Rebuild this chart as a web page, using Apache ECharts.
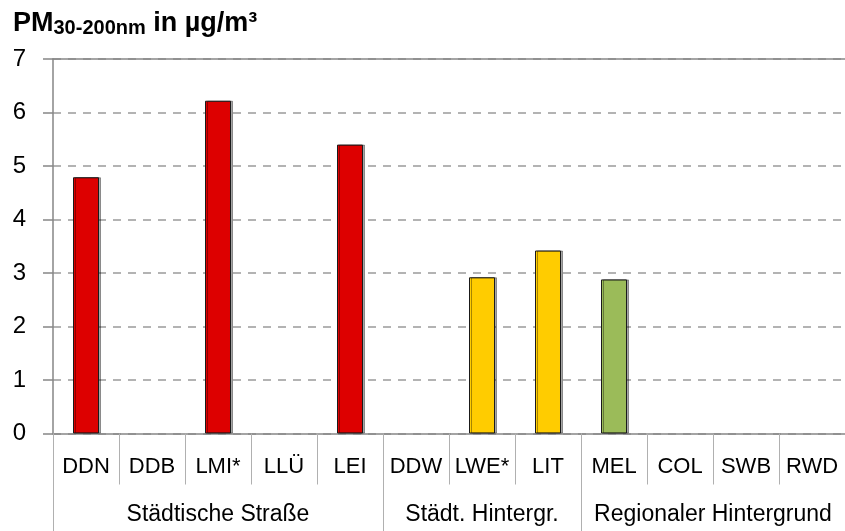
<!DOCTYPE html>
<html>
<head>
<meta charset="utf-8">
<script src="https://cdn.jsdelivr.net/npm/echarts@6/dist/echarts.min.js"></script>
<style>
  html, body { margin: 0; padding: 0; background: #fff; }
  #chart { width: 845px; height: 531px; }
</style>
</head>
<body>
<div id="chart"></div>
<script>
// stations and PM30-200nm values (µg/m³), null = no bar
const stations = ["DDN", "DDB", "LMI*", "LLÜ", "LEI", "DDW", "LWE*", "LIT", "MEL", "COL", "SWB", "RWD"];
const pmValues = [4.79, null, 6.22, null, 5.40, null, 2.92, 3.42, 2.88, null, null, null];
const groupNames = ["Städtische Straße", "Städt. Hintergr.", "Regionaler Hintergrund"];
const groupSizes = [5, 3, 4];
const groupColors = ["#dd0000", "#ffcc00", "#9bbb59"];
const yTicks = [0, 1, 2, 3, 4, 5, 6, 7];

// group boundaries and centers on a 0..12 value scale
const bounds = [0];
groupSizes.forEach((n) => bounds.push(bounds[bounds.length - 1] + n));
const centers = groupSizes.map((n, i) => bounds[i] + n / 2);

// colour of each bar comes from its group
const barColors = [];
groupSizes.forEach((n, i) => {
  for (let k = 0; k < n; k++) barColors.push(groupColors[i]);
});

const font = "Liberation Sans, Arial, sans-serif";
const chart = echarts.init(document.getElementById("chart"));

chart.setOption({
  animation: false,
  title: {
    left: 8,
    top: 4,
    text: "{a|PM}{b|30-200nm}{a| in µg/m³}",
    textStyle: {
      rich: {
        a: { fontFamily: font, fontSize: 27, fontWeight: "bold", color: "#000" },
        b: { fontFamily: font, fontSize: 20, fontWeight: "bold", color: "#000", padding: [9, 0, 0, 0] },
      },
    },
  },
  grid: { left: 53, right: -5, top: 59, bottom: 97.5 },
  xAxis: [
    {
      type: "category",
      data: stations,
      position: "bottom",
      axisLine: { lineStyle: { color: "#868686", width: 1.5 } },
      axisTick: { show: true, interval: 0, length: 51, lineStyle: { color: "#b0b0b0" } },
      axisLabel: { interval: 0, margin: 22, fontFamily: font, fontSize: 22, color: "#000" },
    },
    {
      type: "value",
      min: 0,
      max: bounds[bounds.length - 1],
      position: "bottom",
      splitLine: { show: false },
      axisLine: { show: false },
      axisTick: { show: true, customValues: bounds, length: 98, lineStyle: { color: "#b0b0b0" } },
      axisLabel: {
        customValues: centers,
        margin: 70,
        fontFamily: font,
        fontSize: 23,
        color: "#000",
        formatter: (v) => groupNames[centers.indexOf(v)],
      },
    },
    {
      type: "category",
      data: stations,
      position: "top",
      axisLine: { show: true, lineStyle: { color: "#868686", width: 1.5 } },
      axisTick: { show: false },
      axisLabel: { show: false },
    },
  ],
  yAxis: {
    type: "value",
    min: yTicks[0],
    max: yTicks[yTicks.length - 1],
    interval: 1,
    axisLine: { show: true, lineStyle: { color: "#868686", width: 1.5 } },
    axisTick: { show: true, length: 10, lineStyle: { color: "#868686", width: 1.5 } },
    axisLabel: { margin: 27, fontFamily: font, fontSize: 24, color: "#000" },
    splitLine: { lineStyle: { color: "#9a9a9a", width: 1.5, type: [8, 7] } },
  },
  series: [
    {
      type: "bar",
      xAxisIndex: 0,
      barWidth: 26,
      data: pmValues.map((v, i) => ({
        value: v,
        itemStyle: {
          color: barColors[i],
          borderColor: "#1a1a1a",
          borderWidth: 1,
          shadowColor: "rgba(0,0,0,0.35)",
          shadowOffsetX: 2,
          shadowOffsetY: 0,
          shadowBlur: 0,
        },
      })),
    },
  ],
});
</script>
</body>
</html>
